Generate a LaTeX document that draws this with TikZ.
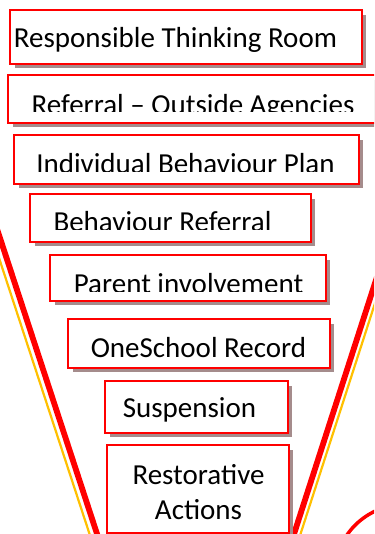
\documentclass[tikz,border=0pt]{standalone}
\usepackage{fontspec}
\setmainfont{Carlito}
\usepackage{tikz}
\usetikzlibrary{shadows}
\definecolor{boxred}{RGB}{255,0,0}
\definecolor{shadowgray}{RGB}{165,140,140}
\definecolor{funnelorange}{RGB}{255,192,0}
\tikzset{tier/.style={draw=boxred,line width=2.2pt,fill=white,inner sep=0pt,outer sep=0pt,anchor=north west,
	drop shadow={shadow xshift=4.5pt,shadow yshift=-4.5pt,fill=shadowgray,opacity=1}}}
\tikzset{tiertext/.style={anchor=base,inner sep=0pt,font=\fontsize{29}{35}\selectfont}}
\tikzset{funnelred/.style={draw=boxred,line width=5.8pt}}
\tikzset{funnelgold/.style={draw=funnelorange,line width=2.2pt}}
\tikzset{cutoff/.style={fill=white}}

\begin{document}
\begin{tikzpicture}[x=1pt,y=-1pt]
		\useasboundingbox (0,0) rectangle (374,534);
		\clip (0,0) rectangle (374,534);
		% funnel sides
		\coordinate (ltop) at (-19.7,178);
		\coordinate (lbot) at (100,543);
		\coordinate (lotop) at (-27.2,178);
		\coordinate (lobot) at (92.5,543);
		\coordinate (rtop) at (388.9,240);
		\coordinate (rbot) at (291.1,543);
		\coordinate (rotop) at (395.4,240);
		\coordinate (robot) at (297.6,543);
		\path [funnelgold] (lotop) edge (lobot);
		\path [funnelgold] (rotop) edge (robot);
		\path [funnelred] (ltop) edge (lbot);
		\path [funnelred] (rtop) edge (rbot);
		\coordinate (ring) at (405,575);
		\draw[boxred,line width=3.5pt] (ring) circle[radius=70.5pt];
		% boxes
		\node[tier,minimum width=351.8pt,minimum height=53.8pt] (rtr) at (10.1,10.1) {};
		\node[tier,minimum width=370.8pt,minimum height=47.8pt] (ref) at (8.1,75.1) {};
		\node[tier,minimum width=344.8pt,minimum height=48.8pt] (ibp) at (14.1,135.1) {};
		\node[tier,minimum width=280.8pt,minimum height=47.8pt] (bref) at (30.1,194.1) {};
		\node[tier,minimum width=275.8pt,minimum height=45.8pt] (parent) at (50.1,255.1) {};
		\node[tier,minimum width=261.8pt,minimum height=48.8pt] (oneschool) at (68.1,319.1) {};
		\node[tier,minimum width=182.8pt,minimum height=51.8pt] (susp) at (105.1,381.1) {};
		\node[tier,minimum width=181.8pt,minimum height=88.3pt] (restore) at (107.1,445.1) {};
		% texts
		\node[tiertext] (rtrtext) at (175.5,47.5) {Responsible Thinking Room};
		\node[tiertext] (reftext) at (193,114.5) {Referral – Outside Agencies};
		\node[tiertext] (ibptext) at (185.5,173.5) {Individual Behaviour Plan};
		\node[tiertext] (breftext) at (162.5,231.5) {Behaviour Referral};
		\node[tiertext] (parenttext) at (188.5,293.5) {Parent involvement};
		\node[tiertext] (oneschooltext) at (198.5,357.5) {OneSchool Record};
		\node[tiertext] (susptext) at (189.5,417.5) {Suspension};
		\node[tiertext] (restoretext) at (198.5,484.5) {Restorative};
		\node[tiertext] (actionstext) at (198.5,519.5) {Actions};
		% cut-off text bottoms
		\fill[cutoff] (9.3,112.5) rectangle (374,121.8);
		\fill[cutoff] (15.3,172) rectangle (357.8,182.8);
		\fill[cutoff] (31.3,229.5) rectangle (309.8,240.8);
		\fill[cutoff] (51.3,292) rectangle (324.8,299.8);
	\end{tikzpicture}
\end{document}
